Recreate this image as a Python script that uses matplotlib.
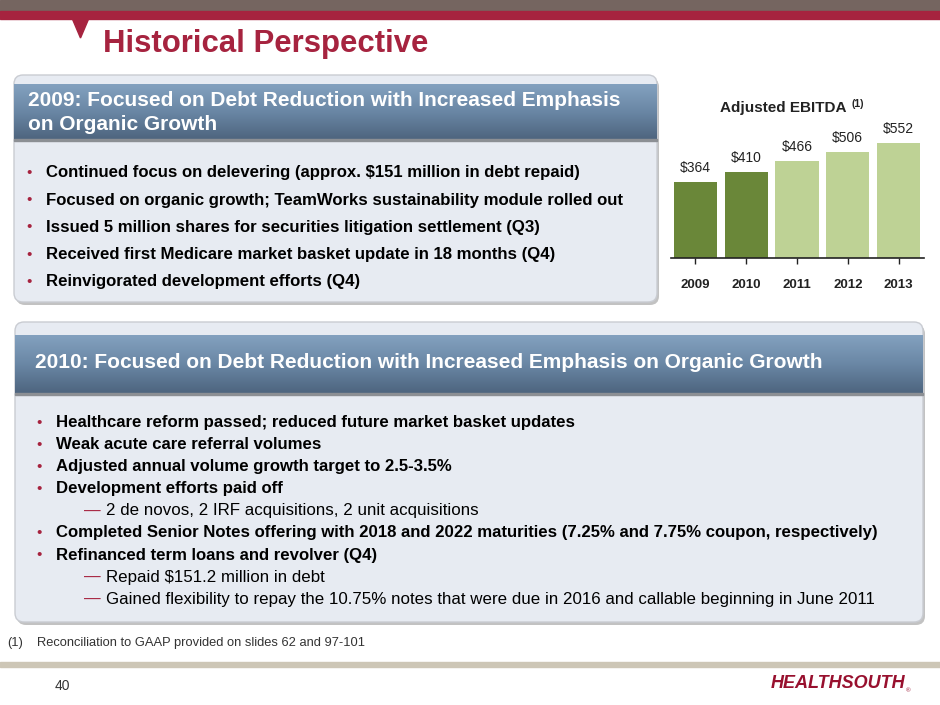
import numpy as np
import matplotlib
matplotlib.use("Agg")
import matplotlib.pyplot as plt
from matplotlib.patches import FancyBboxPatch, Rectangle, Polygon
from matplotlib.colors import LinearSegmentedColormap

plt.rcParams['font.family'] = ['Liberation Sans', 'DejaVu Sans']

# data
years = ['2009', '2010', '2011', '2012', '2013']
ebitda = [364, 410, 466, 506, 552]
n_actual = 2   # first two bars are actuals (dark green)

title = "Historical Perspective"
chart_title = "Adjusted EBITDA"
box1_header = ["2009: Focused on Debt Reduction with Increased Emphasis",
               "on Organic Growth"]
box1_bullets = [
    "Continued focus on delevering (approx. $151 million in debt repaid)",
    "Focused on organic growth; TeamWorks sustainability module rolled out",
    "Issued 5 million shares for securities litigation settlement (Q3)",
    "Received first Medicare market basket update in 18 months (Q4)",
    "Reinvigorated development efforts (Q4)",
]
box2_header = "2010: Focused on Debt Reduction with Increased Emphasis on Organic Growth"
# (level, text): level 0 = bullet, 1 = dash sub-item
box2_items = [
    (0, "Healthcare reform passed; reduced future market basket updates"),
    (0, "Weak acute care referral volumes"),
    (0, "Adjusted annual volume growth target to 2.5-3.5%"),
    (0, "Development efforts paid off"),
    (1, "2 de novos, 2 IRF acquisitions, 2 unit acquisitions"),
    (0, "Completed Senior Notes offering with 2018 and 2022 maturities (7.25% and 7.75% coupon, respectively)"),
    (0, "Refinanced term loans and revolver (Q4)"),
    (1, "Repaid $151.2 million in debt"),
    (1, "Gained flexibility to repay the 10.75% notes that were due in 2016 and callable beginning in June 2011"),
]
footnote = "Reconciliation to GAAP provided on slides 62 and 97-101"

RED = '#A6233F'
BOX_BG = '#E7EBF2'
header_cmap = LinearSegmentedColormap.from_list('hdr', ['#83A1BF', '#6A87A5', '#4E657F'])

fig = plt.figure(figsize=(9.4, 7.05), dpi=100)
ax = fig.add_axes([0, 0, 1, 1])
ax.set_axis_off()

# top bands
ax.add_patch(Rectangle((0, 0), 940, 11, color='#756560', zorder=1))
ax.add_patch(Rectangle((0, 11), 940, 8, color=RED, zorder=1))
ax.add_patch(Polygon([(72, 18), (89, 18), (80.5, 38)], closed=True, color=RED, zorder=1))
ax.text(103, 44, title, fontsize=22.4, fontweight='bold', color=RED, va='center', ha='left')


def panel(x0, y0, x1, y1, hy0, hy1):
    # shadow
    ax.add_patch(FancyBboxPatch((x0 + 2, y0 + 3), x1 - x0, y1 - y0,
                                boxstyle="round,pad=0,rounding_size=9",
                                fc='#9A9A9A', ec='none', alpha=0.6, zorder=2))
    ax.add_patch(FancyBboxPatch((x0, y0), x1 - x0, y1 - y0,
                                boxstyle="round,pad=0,rounding_size=9",
                                fc=BOX_BG, ec='#C9CCD2', lw=1, zorder=3))
    ax.imshow(np.linspace(0, 1, 100).reshape(-1, 1), cmap=header_cmap,
              extent=[x0, x1, hy1, hy0], aspect='auto', zorder=4)
    ax.add_patch(Rectangle((x0, hy1), x1 - x0, 1.5, color='#8C8F94', zorder=4))


panel(14, 75, 657, 302, 84, 139)
panel(15, 322, 923, 622, 335, 393)

# box 1 text
for i, line in enumerate(box1_header):
    ax.text(28, 100 + i * 25, line, fontsize=15, fontweight='bold', color='white',
            va='center', ha='left', zorder=5)
for i, line in enumerate(box1_bullets):
    y = 173 + i * 27.2
    ax.text(26, y, '\u2022', fontsize=11, color=RED, va='center', ha='left', zorder=5)
    ax.text(46, y, line, fontsize=12.1, fontweight='bold', color='black',
            va='center', ha='left', zorder=5)

# box 2 text
ax.text(35, 362, box2_header, fontsize=15, fontweight='bold', color='white',
        va='center', ha='left', zorder=5)
for i, (level, line) in enumerate(box2_items):
    y = 422.5 + i * 22.1
    if level == 0:
        ax.text(36, y, '\u2022', fontsize=11, color=RED, va='center', ha='left', zorder=5)
        ax.text(56, y, line, fontsize=12.1, fontweight='bold', color='black',
                va='center', ha='left', zorder=5)
    else:
        ax.text(84, y, '\u2014', fontsize=12, color=RED, va='center', ha='left', zorder=5)
        ax.text(106, y, line, fontsize=12.2, color='black',
                va='center', ha='left', zorder=5)

# footer
ax.text(7, 643, '(1)', fontsize=9.3, color='#333333', va='center', ha='left')
ax.text(37, 643, footnote, fontsize=9.3, color='#333333', va='center', ha='left')
ax.add_patch(Rectangle((0, 662), 940, 5, color='#CDC6B6', zorder=1))
ax.text(55, 686, '40', fontsize=10, color='#333333', va='center', ha='left')
ax.text(771, 684, 'HEALTHSOUTH', fontsize=13, fontweight='bold', style='italic',
        color='#98102E', va='center', ha='left')
ax.text(906, 691, '\u00ae', fontsize=4.5, color='#98102E', va='center', ha='left')

ax.set_xlim(0, 940)
ax.set_ylim(705, 0)

# bar chart
W, H = 940.0, 705.0
cx0, cx1, base_y = 671, 924, 258
px_per_unit = 0.209
ymax = 600
bax = fig.add_axes([cx0 / W, (H - base_y) / H, (cx1 - cx0) / W, ymax * px_per_unit / H])
bax.patch.set_alpha(0)
colors = ['#6A8739' if i < n_actual else '#BED295' for i in range(len(years))]
x = np.arange(len(years))
bars = bax.bar(x, ebitda, width=0.85, color=colors, zorder=2)
for xi, v in zip(x, ebitda):
    bax.annotate(f'${v}', (xi, v), xytext=(0, 10), textcoords='offset points',
                 ha='center', va='center', fontsize=10, color='#222222')
bax.set_xlim(-0.48, 4.5)
bax.set_ylim(0, ymax)
for s in ['top', 'right', 'left']:
    bax.spines[s].set_visible(False)
bax.spines['bottom'].set_color('#222222')
bax.spines['bottom'].set_linewidth(1.2)
bax.set_yticks([])
bax.set_xticks(x)
bax.set_xticklabels(years, fontsize=9.5, fontweight='bold', color='#222222')
bax.tick_params(axis='x', length=4, width=1, color='#222222', pad=11)

ax.text(783, 108, chart_title, fontsize=11, fontweight='bold', color='#222222',
        va='center', ha='center')
ax.text(851, 104, '(1)', fontsize=7.5, fontweight='bold', color='#222222',
        va='center', ha='left')

fig.savefig('out.png', dpi=100)
